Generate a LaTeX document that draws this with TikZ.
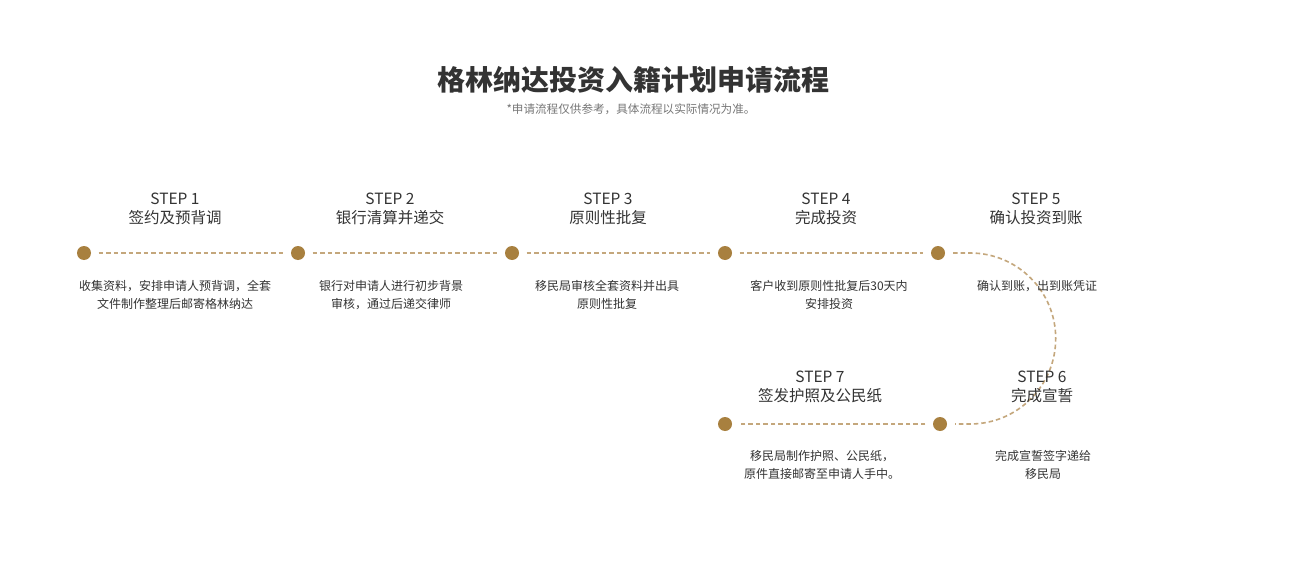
\documentclass[tikz,border=0pt]{standalone}
\usepackage{fontspec}
\setmainfont{Noto Sans CJK SC}
\usetikzlibrary{positioning}
\definecolor{gold}{HTML}{A8803F}
\definecolor{goldline}{HTML}{C4A77C}
\definecolor{ink}{HTML}{333333}
\definecolor{soft}{HTML}{777777}

\begin{document}
\begin{tikzpicture}[x=1pt, y=-1pt,
  dot/.style={circle, fill=gold, minimum size=14pt, inner sep=0pt},
  trail/.style={goldline, line width=1.6pt, dash pattern=on 4.5pt off 3pt},
  steplabel/.style={align=center, text=ink, font=\fontsize{15.5}{18.5}\selectfont},
  stepnote/.style={align=center, text=ink, font=\fontsize{12}{18}\selectfont}]
\useasboundingbox [fill=white] (0,0) rectangle (1305,564);
\node (title) at (633,80) [text=ink, font=\fontsize{28}{34}\selectfont\bfseries] {格林纳达投资入籍计划申请流程};
\node (subtitle) at (631,109) [text=soft, font=\fontsize{11.6}{13}\selectfont] {*申请流程仅供参考，具体流程以实际情况为准。};
% upper row
\node (d1) at (84,253) [dot] {};
\node (d2) at (298,253) [dot] {};
\node (d3) at (512,253) [dot] {};
\node (d4) at (725,253) [dot] {};
\node (d5) at (938,253) [dot] {};
% lower row
\node (d6) at (940,424) [dot] {};
\node (d7) at (725,424) [dot] {};
\draw [trail, shorten <=7.5pt, shorten >=7.5pt] (d1) -- (d2);
\draw [trail, shorten <=7.5pt, shorten >=7.5pt] (d2) -- (d3);
\draw [trail, shorten <=7.5pt, shorten >=7.5pt] (d3) -- (d4);
\draw [trail, shorten <=7.5pt, shorten >=7.5pt] (d4) -- (d5);
\draw [trail] ([xshift=8pt]d5.east) -- ++(17,0) coordinate (bend)
      arc [start angle=-90, end angle=90, radius=85.5] -- ([xshift=8pt]d6.east);
\draw [trail, shorten <=7.5pt, shorten >=7.5pt] (d6) -- (d7);
% labels
\node (s1) at (175,209) [steplabel] {STEP 1\\签约及预背调};
\node (s2) at (390,209) [steplabel] {STEP 2\\银行清算并递交};
\node (s3) at (608,209) [steplabel] {STEP 3\\原则性批复};
\node (s4) at (826,209) [steplabel] {STEP 4\\完成投资};
\node (s5) at (1036,209) [steplabel] {STEP 5\\确认投资到账};
\node (s6) at (1042,387) [steplabel] {STEP 6\\完成宣誓};
\node (s7) at (820,387) [steplabel] {STEP 7\\签发护照及公民纸};
% notes
\node (n1) at (175,295) [stepnote] {收集资料，安排申请人预背调，全套\\文件制作整理后邮寄格林纳达};
\node (n2) at (391,295) [stepnote] {银行对申请人进行初步背景\\审核，通过后递交律师};
\node (n3) at (607,295) [stepnote] {移民局审核全套资料并出具\\原则性批复};
\node (n4) at (829,295) [stepnote] {客户收到原则性批复后30天内\\安排投资};
\node (n5) at (1037,286) [stepnote] {确认到账，出到账凭证};
\node (n6) at (1043,465) [stepnote] {完成宣誓签字递给\\移民局};
\node (n7) at (822,465) [stepnote] {移民局制作护照、公民纸，\\原件直接邮寄至申请人手中。};
\end{tikzpicture}
\end{document}
